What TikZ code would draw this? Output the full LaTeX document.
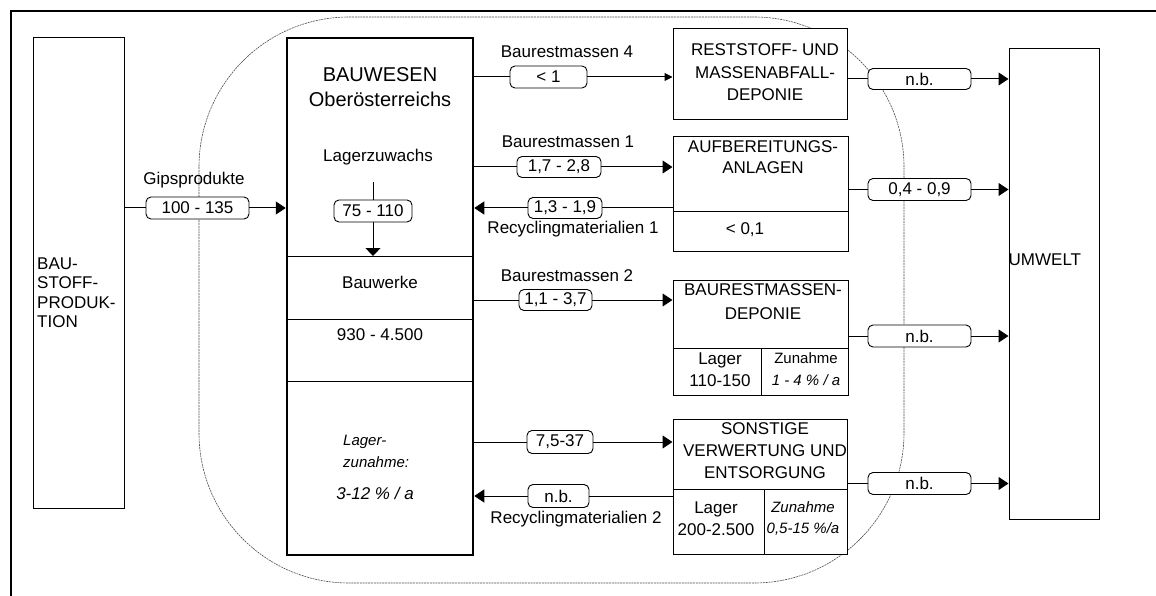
\documentclass[tikz,border=0pt]{standalone}
\usepackage{fontspec}
\setmainfont{Liberation Sans}
\usetikzlibrary{arrows.meta}
\begin{document}
\begin{tikzpicture}[x=1pt,y=-1pt,
  box/.style={draw, line width=1pt, fill=white, inner sep=0pt},
  val/.style={draw, rounded corners=5pt, fill=white, line width=0.9pt, inner sep=0pt, font=\fontsize{17}{20}\selectfont},
  tx/.style={inner sep=0pt, align=center, font=\fontsize{17}{22}\selectfont},
  txs/.style={inner sep=0pt, align=center, font=\fontsize{15}{22}\selectfont},
  plain/.style={line width=1pt},
  flow/.style={line width=1pt, -{Triangle[length=10pt,width=13pt]}},
  flowsmall/.style={line width=1pt, -{Triangle[length=8pt,width=8pt]}},
  flowdown/.style={line width=1pt, -{Triangle[length=8pt,width=15pt]}},
  divider/.style={line width=1pt},
  region/.style={draw=black!70, line width=0.6pt, dash pattern=on 2pt off 0.8pt, rounded corners=150pt},
  frame/.style={line width=2pt}
]
\useasboundingbox (0,0) rectangle (1156,596);

% outer frame
\draw[frame] (11,596) -- (11,11) -- (1156,11);

% dotted system boundary
\draw[region] (199,17) rectangle (904,583);

% BAUSTOFFPRODUKTION
\node[box, minimum width=91pt, minimum height=470pt] (baustoff) at (78.5,273) {};
\node[tx, align=left, anchor=west, font=\fontsize{17}{19.5}\selectfont] (baustofftxt) at (37,292.5) {BAU-\\STOFF-\\PRODUK-\\TION};

% BAUWESEN
\node[box, line width=2.5pt, minimum width=186pt, minimum height=517pt] (bauwesen) at (380,296.5) {};
\draw[divider] (bauwesen.west |- 0,256) -- (bauwesen.east |- 0,256);
\draw[divider] (bauwesen.west |- 0,319) -- (bauwesen.east |- 0,319);
\draw[divider] (bauwesen.west |- 0,381) -- (bauwesen.east |- 0,381);
\node[tx, font=\fontsize{20}{25}\selectfont] (bwtitle) at (380,87.5) {BAUWESEN\\Oberösterreichs};
\node[tx] (lz) at (378,157) {Lagerzuwachs};
\node[tx] (bauwerke) at (380,282) {Bauwerke};
\node[tx] (bwlager) at (380,335) {930 - 4.500};
\node[txs, align=left, anchor=west, font=\fontsize{15}{22}\selectfont\itshape] (lzn) at (343,451) {Lager-\\zunahme:};
\node[tx, font=\fontsize{17}{22}\selectfont\itshape] (lznw) at (375,493) {3-12 \% / a};

% RESTSTOFF
\node[box, minimum width=174pt, minimum height=91pt] (rest) at (760,74.5) {};
\node[tx, font=\fontsize{17}{22.5}\selectfont] (resttxt) at (765,72.5) {RESTSTOFF- UND\\MASSENABFALL-\\DEPONIE};

% AUFBEREITUNG
\node[box, minimum width=175pt, minimum height=114pt] (aufb) at (760.5,194) {};
\draw[divider] (aufb.west |- 0,212) -- (aufb.east |- 0,212);
\node[tx, font=\fontsize{17}{21}\selectfont] (aufbtxt) at (763,157.5) {AUFBEREITUNGS-\\ANLAGEN};
\node[tx] (aufbl) at (745,230) {< 0,1};

% BAURESTMASSENDEPONIE
\node[box, minimum width=175pt, minimum height=115pt] (bdep) at (760.5,337.5) {};
\draw[divider] (bdep.west |- 0,348) -- (bdep.east |- 0,348);
\draw[divider] (761,348) -- (bdep.south -| 761,0);
\node[tx, font=\fontsize{17}{24}\selectfont] (bdeptxt) at (763,302) {BAURESTMASSEN-\\DEPONIE};
\node[tx] (bdepl) at (720,370) {Lager\\110-150};
\node[txs] (bdepz) at (806,369) {Zunahme\\\itshape 1 - 4 \% / a};

% SONSTIGE
\node[box, minimum width=174pt, minimum height=135pt] (sonst) at (760,486.5) {};
\draw[divider] (sonst.west |- 0,489) -- (sonst.east |- 0,489);
\draw[divider] (764,489) -- (sonst.south -| 764,0);
\node[tx] (sonsttxt) at (765,451) {SONSTIGE\\VERWERTUNG UND\\ENTSORGUNG};
\node[tx] (sonstl) at (716,519) {Lager\\200-2.500};
\node[txs, font=\fontsize{15}{21}\selectfont\itshape] (sonstz) at (803,519) {Zunahme\\0,5-15 \%/a};

% UMWELT
\node[box, minimum width=90pt, minimum height=470pt] (umwelt) at (1054,284) {};
\node[tx, anchor=west] (umwelttxt) at (1008.5,260) {UMWELT};

% value boxes
\node[val, minimum width=103pt, minimum height=22pt] (v100) at (197.5,208) {100 - 135};
\node[val, minimum width=77pt, minimum height=22pt] (v1) at (548.5,77) {< 1};
\node[val, minimum width=84pt, minimum height=21pt] (v17) at (559,167) {1,7 - 2,8};
\node[val, minimum width=74pt, minimum height=21pt] (v13) at (565,208) {1,3 - 1,9};
\node[val, minimum width=73pt, minimum height=21pt] (v11) at (555.5,300) {1,1 - 3,7};
\node[val, minimum width=66pt, minimum height=23pt] (v7) at (560,442) {7,5-37};
\node[val, minimum width=61pt, minimum height=23pt] (vrc2) at (558.5,496) {n.b.};
\node[val, minimum width=78pt, minimum height=22pt] (vlz) at (373,211) {75 - 110};
\node[val, minimum width=103pt, minimum height=21pt] (u1) at (919.5,79) {n.b.};
\node[val, minimum width=103pt, minimum height=22pt] (u2) at (919.5,189.5) {0,4 - 0,9};
\node[val, minimum width=103pt, minimum height=22pt] (u3) at (919.5,336) {n.b.};
\node[val, minimum width=103pt, minimum height=22pt] (u4) at (919.5,483.5) {n.b.};

% flow labels
\node[tx] (lgips) at (194,180) {Gipsprodukte};
\node[tx] (lbm4) at (567,52) {Baurestmassen 4};
\node[tx] (lbm1) at (568,142) {Baurestmassen 1};
\node[tx] (lrc1) at (573,229) {Recyclingmaterialien 1};
\node[tx] (lbm2) at (567,276) {Baurestmassen 2};
\node[tx] (lrc2) at (576,519) {Recyclingmaterialien 2};

% connectors
\draw[plain] (baustoff.east |- v100) -- (v100);
\draw[flow] (v100) -- (bauwesen.west |- v100);

\draw[plain] (bauwesen.east |- v1) -- (v1);
\draw[flowsmall] (v1) -- (rest.west |- v1);

\draw[plain] (bauwesen.east |- v17) -- (v17);
\draw[flow] (v17) -- (aufb.west |- v17);

\draw[plain] (aufb.west |- v13) -- (v13);
\draw[flow] (v13) -- (bauwesen.east |- v13);

\draw[plain] (bauwesen.east |- v11) -- (v11);
\draw[flow] (v11) -- (bdep.west |- v11);

\draw[plain] (bauwesen.east |- v7) -- (v7);
\draw[flow] (v7) -- (sonst.west |- v7);

\draw[plain] (sonst.west |- vrc2) -- (vrc2);
\draw[flow] (vrc2) -- (bauwesen.east |- vrc2);

\coordinate (lzstart) at (373,182);
\coordinate (lzend) at (373,256);
\draw[plain] (lzstart) -- (vlz);
\draw[flowdown] (vlz) -- (lzend);

\draw[plain] (rest.east |- u1) -- (u1);
\draw[flow] (u1) -- (umwelt.west |- u1);
\draw[plain] (aufb.east |- u2) -- (u2);
\draw[flow] (u2) -- (umwelt.west |- u2);
\draw[plain] (bdep.east |- u3) -- (u3);
\draw[flow] (u3) -- (umwelt.west |- u3);
\draw[plain] (sonst.east |- u4) -- (u4);
\draw[flow] (u4) -- (umwelt.west |- u4);
\end{tikzpicture}
\end{document}
